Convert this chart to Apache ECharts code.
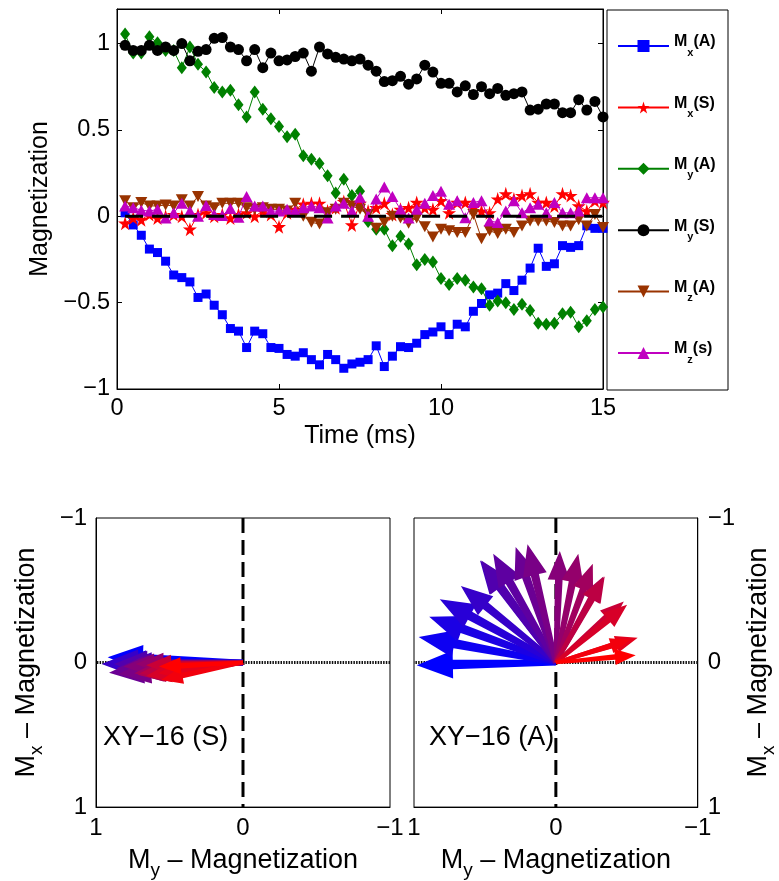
<!DOCTYPE html>
<html><head><meta charset="utf-8">
<script src="https://cdn.jsdelivr.net/npm/echarts@6/dist/echarts.min.js"></script>
<style>html,body{margin:0;padding:0;background:#fff}#c{width:779px;height:881px}</style>
</head><body><div id="c"></div>
<script>
// ---- data ----
const time = [0.25,0.5,0.75,1,1.25,1.5,1.75,2,2.25,2.5,2.75,3,3.25,3.5,3.75,4,4.25,4.5,4.75,5,
  5.25,5.5,5.75,6,6.25,6.5,6.75,7,7.25,7.5,7.75,8,8.25,8.5,8.75,9,9.25,9.5,9.75,10,
  10.25,10.5,10.75,11,11.25,11.5,11.75,12,12.25,12.5,12.75,13,13.25,13.5,13.75,14,14.25,14.5,14.75,15];
const mxA = [0.02,-0.05,-0.11,-0.19,-0.21,-0.26,-0.34,-0.355,-0.38,-0.47,
  -0.45,-0.515,-0.57,-0.65,-0.665,-0.76,-0.665,-0.68,-0.76,-0.765,
  -0.80,-0.81,-0.79,-0.83,-0.86,-0.80,-0.83,-0.88,-0.855,-0.845,
  -0.83,-0.75,-0.87,-0.81,-0.755,-0.76,-0.735,-0.685,-0.67,-0.64,
  -0.685,-0.625,-0.64,-0.55,-0.505,-0.455,-0.445,-0.39,-0.43,-0.37,
  -0.30,-0.185,-0.29,-0.275,-0.17,-0.18,-0.17,-0.055,-0.07,-0.07];
const mxS = [-0.04,-0.01,-0.02,0.01,-0.01,0.0,0.01,0.0,-0.075,0.01,
  0.02,0.0,0.01,-0.01,0.01,0.02,0.0,0.03,0.01,-0.06,
  0.02,0.04,0.07,0.075,0.075,0.03,0.05,0.085,-0.05,0.075,
  0.03,0.05,0.075,0.01,0.04,0.05,0.08,0.05,0.04,0.09,
  0.02,0.08,0.08,0.05,0.03,0.02,0.10,0.13,0.10,0.12,
  0.13,0.08,0.08,0.06,0.13,0.12,0.06,0.03,0.09,0.08];
const myA = [1.055,0.945,0.945,1.04,1.005,0.96,0.96,0.86,0.98,0.88,
  0.835,0.745,0.72,0.73,0.645,0.575,0.72,0.62,0.565,0.52,
  0.46,0.475,0.35,0.33,0.305,0.235,0.135,0.215,0.12,0.145,
  -0.03,-0.075,-0.075,-0.17,-0.115,-0.16,-0.28,-0.25,-0.265,-0.36,
  -0.395,-0.36,-0.37,-0.41,-0.42,-0.515,-0.49,-0.50,-0.54,-0.51,
  -0.545,-0.62,-0.625,-0.62,-0.565,-0.555,-0.64,-0.605,-0.54,-0.525];
const myS = [0.99,0.96,0.96,0.99,0.96,0.98,0.96,1.00,0.90,0.955,
  0.965,1.03,1.035,0.98,0.965,0.90,0.965,0.86,0.945,0.90,
  0.905,0.925,0.945,0.84,0.98,0.94,0.92,0.91,0.90,0.91,
  0.875,0.84,0.78,0.785,0.81,0.765,0.795,0.875,0.835,0.77,
  0.77,0.72,0.755,0.705,0.75,0.71,0.74,0.70,0.71,0.72,
  0.615,0.62,0.65,0.65,0.60,0.60,0.675,0.615,0.665,0.575];
const mzA = [0.09,0.05,0.08,0.06,0.06,0.065,0.06,0.095,0.06,0.115,
  0.06,0.05,0.075,0.075,0.075,0.05,0.04,0.05,0.04,0.04,
  0.03,0.075,0.0,-0.035,-0.045,0.02,0.04,0.075,0.06,0.04,
  0.01,-0.07,-0.035,0.0,-0.01,-0.04,-0.01,-0.06,-0.12,-0.075,
  -0.084,-0.094,-0.094,0.01,-0.13,-0.084,-0.1,-0.075,-0.094,-0.056,
  -0.027,-0.027,-0.027,-0.036,-0.056,-0.056,-0.02,-0.056,0.01,-0.065];
const mzS = [0.06,0.05,0.035,0.03,0.04,-0.01,0.02,0.075,0.03,0.0,
  0.063,0.01,0.005,0.045,-0.005,0.115,0.06,0.06,0.03,0.03,
  0.04,0.03,0.05,0.06,0.05,-0.01,0.06,0.075,0.03,0.11,
  0.0,0.10,0.17,0.115,0.04,-0.01,0.04,0.075,0.12,0.145,
  0.07,0.09,-0.008,0.08,0.09,-0.027,-0.036,0.03,0.09,0.02,
  0.05,0.07,0.02,0.08,0.02,0.02,0.03,0.107,0.107,0.107];
const seriesNames = ['Mx(A)','Mx(S)','My(A)','My(S)','Mz(A)','Mz(s)'];
const legendLabels = {'Mx(A)':['x','(A)'],'Mx(S)':['x','(S)'],'My(A)':['y','(A)'],'My(S)':['y','(S)'],'Mz(A)':['z','(A)'],'Mz(s)':['z','(s)']};
const timeTicks = [0,5,10,15];
const magTicks = [-1,-0.5,0,0.5,1];
const quiverTicks = [-1,0,1];
const panelLabels = ['XY\u221216 (S)','XY\u221216 (A)'];
const arrowStep = 3;

// ---- style ----
const FONT = 'Liberation Sans, Arial, Helvetica, sans-serif';
const colors = ['#0000ff','#ff0000','#008000','#000000','#993300','#c000c0'];
const starPath = 'path://M50,0 L61,35 L98,35 L68,57 L79,91 L50,70 L21,91 L32,57 L2,35 L39,35 Z';
const downTri = 'path://M0,0 L100,0 L50,87 Z';
const symbols = ['rect', starPath, 'diamond', 'circle', downTri, 'triangle'];
const symbolSizes = [9, 14, [10,13], 11, [12,11], [12,11]];
const values = [mxA, mxS, myA, myS, mzA, mzS];
const arrowScale = 0.93;

function fmt(v){ return (v < 0 ? '\u2212' : '') + Math.abs(v); }
function fmtTicks(list){ return v => list.some(t => Math.abs(t - v) < 1e-9) ? fmt(v) : ''; }

const chart = echarts.init(document.getElementById('c'), null, {renderer:'canvas'});

const series = [];
values.forEach((vals, i) => {
  series.push({
    name: seriesNames[i], type: 'line', xAxisIndex: 0, yAxisIndex: 0,
    data: time.map((t, k) => [t, vals[k]]),
    symbol: symbols[i], symbolSize: symbolSizes[i], showAllSymbol: true,
    lineStyle: {color: colors[i], width: 1}, itemStyle: {color: colors[i]},
    z: 2 + i * 0.01, animation: false
  });
});
// zero reference line (top)
series.push({type:'line', xAxisIndex:0, yAxisIndex:0, data:[[time[0],0],[time[time.length-1],0]],
  symbol:'none', lineStyle:{color:'#000', width:3, type:[18,9]}, z:4, silent:true, animation:false});

function guideLines(xi, yi){
  return [
    {type:'line', xAxisIndex:xi, yAxisIndex:yi, data:[[-1,0],[1,0]], symbol:'none',
      lineStyle:{color:'#111', width:3, type:[1.5,1.2]}, z:2, silent:true, animation:false},
    {type:'line', xAxisIndex:xi, yAxisIndex:yi, data:[[0,-1],[0,1]], symbol:'none',
      lineStyle:{color:'#000', width:3, type:[15,7]}, z:2, silent:true, animation:false}
  ];
}
function arrowSeries(xi, yi, ys, xs){
  const data = [];
  let k = 0;
  for (let i = 0; i < ys.length; i += arrowStep) { data.push([ys[i], xs[i], k]); k++; }
  const n = data.length;
  return {type:'custom', xAxisIndex:xi, yAxisIndex:yi, data: data, silent:true, animation:false, z:5,
    renderItem(params, api){
      const o = api.coord([0,0]);
      const t = api.coord([api.value(0)*arrowScale, api.value(1)*arrowScale]);
      const dx = t[0]-o[0], dy = t[1]-o[1];
      const L = Math.hypot(dx, dy) || 1;
      const ux = dx/L, uy = dy/L, nx = -uy, ny = ux;
      const h = 0.26*L, w = 0.1*L, s = Math.max(1.8, 0.034*L);
      const bx = t[0]-ux*h, by = t[1]-uy*h;
      const pts = [[o[0]+nx*s*0.6, o[1]+ny*s*0.6],[bx+nx*s, by+ny*s],[bx+nx*w, by+ny*w],[t[0],t[1]],
        [bx-nx*w, by-ny*w],[bx-nx*s, by-ny*s],[o[0]-nx*s*0.6, o[1]-ny*s*0.6]];
      const f = api.value(2)/(n-1);
      const col = 'rgb(' + Math.round(255*f) + ',0,' + Math.round(255*(1-f)) + ')';
      return {type:'polygon', shape:{points:pts}, style:{fill:col}};
    }};
}
series.push(...guideLines(2,2), arrowSeries(2,2,myS,mxS));
series.push(...guideLines(3,3), arrowSeries(3,3,myA,mxA));

const axisCommon = {
  axisLine:{show:true, onZero:false, lineStyle:{color:'#000', width:1}},
  axisTick:{show:true, inside:true, length:5, lineStyle:{color:'#000'}},
  splitLine:{show:false}
};
const labelStyle = (size, margin, list) => ({show:true, color:'#000', fontFamily:FONT, fontSize:size, margin:margin, formatter:fmtTicks(list)});
const subRich = (big, small, drop) => ({
  a:{fontFamily:FONT, fontSize:big, color:'#000', lineHeight:big+4},
  s:{fontFamily:FONT, fontSize:small, color:'#000', lineHeight:small, padding:[drop,0,0,0]}
});

const xAxis = [
  Object.assign({type:'value', gridIndex:0, min:0, max:15, interval:5, position:'bottom',
    axisLabel:labelStyle(23.5, 8, timeTicks), name:'Time (ms)', nameLocation:'middle', nameGap:35,
    nameTextStyle:{fontFamily:FONT, fontSize:25, color:'#000'}}, axisCommon),
  Object.assign({type:'value', gridIndex:0, min:0, max:15, interval:5, position:'top',
    axisLabel:{show:false}}, axisCommon),
  Object.assign({type:'value', gridIndex:1, min:-1, max:1, interval:1, inverse:true, position:'bottom',
    axisLabel:labelStyle(24, 9, quiverTicks), name:'{a|M}{s|y}{a| \u2013 Magnetization}', nameLocation:'middle', nameGap:30,
    nameTextStyle:{rich:subRich(27,19,20)}}, axisCommon, {axisTick:{show:false}}),
  Object.assign({type:'value', gridIndex:2, min:-1, max:1, interval:1, inverse:true, position:'bottom',
    axisLabel:labelStyle(24, 9, quiverTicks), name:'{a|M}{s|y}{a| \u2013 Magnetization}', nameLocation:'middle', nameGap:30,
    nameTextStyle:{rich:subRich(27,19,20)}}, axisCommon, {axisTick:{show:false}})
];
const yAxis = [
  Object.assign({type:'value', gridIndex:0, min:-1, max:1.2, interval:0.5, position:'left',
    axisLabel:labelStyle(23.5, 7, magTicks), name:'Magnetization', nameLocation:'middle', nameGap:62,
    nameTextStyle:{fontFamily:FONT, fontSize:25, color:'#000'}}, axisCommon),
  Object.assign({type:'value', gridIndex:0, min:-1, max:1.2, interval:0.5, position:'right',
    axisLabel:{show:false}}, axisCommon),
  Object.assign({type:'value', gridIndex:1, min:-1, max:1, interval:1, inverse:true, position:'left',
    axisLabel:labelStyle(24, 9, quiverTicks), name:'{a|M}{s|x}{a| \u2013 Magnetization}', nameLocation:'middle', nameGap:54,
    nameTextStyle:{rich:subRich(27,19,20)}}, axisCommon, {axisTick:{show:false}}),
  Object.assign({type:'value', gridIndex:2, min:-1, max:1, interval:1, inverse:true, position:'right',
    axisLabel:labelStyle(24, 10, quiverTicks), name:'{a|M}{s|x}{a| \u2013 Magnetization}', nameLocation:'middle', nameGap:42,
    nameTextStyle:{rich:subRich(27,19,20)}}, axisCommon, {axisTick:{show:false}})
];

const legends = seriesNames.map((nm, i) => ({
  data:[nm], orient:'vertical', left:617, top: 46 + i*61.4 - 12, padding:0,
  itemWidth:51, itemHeight:15, selectedMode:false,
  formatter: n => '{m|M}{s|' + legendLabels[n][0] + '}{m|' + legendLabels[n][1] + '}',
  textStyle:{rich:{
    m:{fontFamily:FONT, fontWeight:'bold', fontSize:16, color:'#000', lineHeight:16, padding:[0,0,8,0]},
    s:{fontFamily:FONT, fontWeight:'bold', fontSize:11, color:'#000', lineHeight:11, padding:[13,0,0,0]}
  }}
}));

chart.setOption({
  backgroundColor:'#fff',
  animation:false,
  grid:[
    {left:117, top:9, width:486, height:380, show:true, borderColor:'#000', borderWidth:1, backgroundColor:'transparent'},
    {left:96, top:518, width:294, height:294, show:true, borderColor:'#000', borderWidth:1, backgroundColor:'transparent'},
    {left:414, top:518, width:295, height:294, show:true, borderColor:'#000', borderWidth:1, backgroundColor:'transparent'}
  ],
  xAxis: xAxis, yAxis: yAxis,
  legend: legends,
  graphic:[
    {type:'rect', shape:{x:607, y:10, width:121, height:380}, style:{fill:'#fff', stroke:'#000', lineWidth:1}, z:-1},
    {type:'text', x:103, y:738, style:{text:panelLabels[0], font:'27px ' + FONT, fill:'#000', verticalAlign:'middle'}, z:10},
    {type:'text', x:429, y:738, style:{text:panelLabels[1], font:'27px ' + FONT, fill:'#000', verticalAlign:'middle'}, z:10}
  ],
  series: series
});
</script></body></html>
